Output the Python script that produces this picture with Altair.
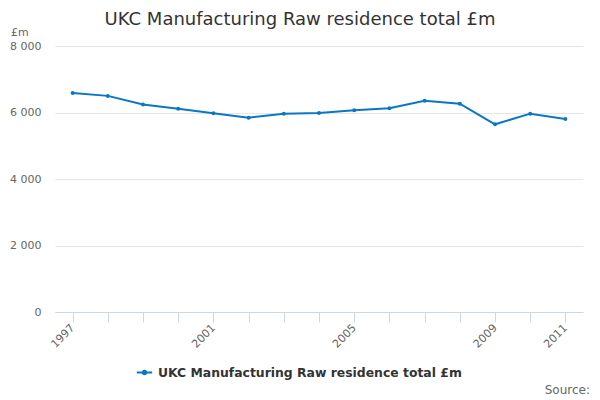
import altair as alt
import pandas as pd

years = list(range(1997, 2012))
values = [6590, 6500, 6240, 6115, 5975, 5845, 5965, 5985, 6065, 6125, 6355, 6265, 5645, 5965, 5805]
series_name = "UKC Manufacturing Raw residence total £m"
y_ticks = [0, 2000, 4000, 6000, 8000]
x_label_years = [1997, 2001, 2005, 2009, 2011]

df = pd.DataFrame({"year": years, "value": values, "series": series_name})

color = "#0b77c2"
font = "DejaVu Sans"

label_expr = "indexof([" + ",".join(str(y) for y in x_label_years) + "], datum.value) >= 0 ? datum.value : ''"

x_enc = alt.X(
    "year:Q",
    scale=alt.Scale(domain=[1996.5, 2011.5], nice=False, zero=False),
    axis=alt.Axis(
        values=years,
        labelExpr=label_expr,
        labelAngle=-45,
        labelAlign="right",
        labelBaseline="middle",
        labelPadding=4,
        labelFont=font,
        labelFontSize=11,
        labelColor="#666666",
        tickColor="#ccd6eb",
        tickSize=10,
        domainColor="#ccd6eb",
        grid=False,
        title=None,
        labelOverlap=False,
        labelFlush=False,
    ),
)
y_enc = alt.Y(
    "value:Q",
    scale=alt.Scale(domain=[0, 8000], nice=False),
    axis=alt.Axis(
        values=y_ticks,
        labelExpr="replace(format(datum.value, ','), ',', ' ')",
        labelFont=font,
        labelFontSize=11,
        labelColor="#666666",
        labelPadding=14,
        gridColor="#e6e6e6",
        domain=False,
        ticks=False,
        title=None,
    ),
)

legend_symbol = "M -1.4 0 L 1.4 0 M 0.3 0 A 0.3 0.3 0 1 1 -0.3 0 A 0.3 0.3 0 1 1 0.3 0"

line = alt.Chart(df).mark_line(strokeWidth=2).encode(
    x=x_enc,
    y=y_enc,
    color=alt.Color(
        "series:N",
        scale=alt.Scale(range=[color]),
        legend=alt.Legend(
            title=None,
            orient="none",
            legendX=83,
            legendY=320,
            symbolType=legend_symbol,
            symbolSize=120,
            symbolStrokeWidth=2,
            symbolFillColor=color,
            labelOffset=7,
            labelFont=font,
            labelFontSize=12.4,
            labelFontWeight="bold",
            labelColor="#333333",
            labelLimit=500,
        ),
    ),
)
points = alt.Chart(df).mark_point(filled=True, size=16, opacity=1).encode(
    x=x_enc, y=y_enc, color=alt.Color("series:N", legend=None)
)

title_text = alt.Chart(pd.DataFrame({"t": [series_name]})).mark_text(
    font=font, fontSize=18, color="#333333", align="center", baseline="alphabetic"
).encode(x=alt.value(245), y=alt.value(-21), text="t:N")

unit_text = alt.Chart(pd.DataFrame({"t": ["£m"]})).mark_text(
    font=font, fontSize=11, color="#666666", align="left", baseline="alphabetic"
).encode(x=alt.value(-44), y=alt.value(-10), text="t:N")

source_text = alt.Chart(pd.DataFrame({"t": ["Source:"]})).mark_text(
    font=font, fontSize=12, color="#666666", align="right", baseline="alphabetic"
).encode(x=alt.value(535), y=alt.value(348), text="t:N")

chart = (
    alt.layer(line, points, title_text, unit_text, source_text)
    .properties(
        width=528,
        height=266,
        background="white",
        autosize=alt.AutoSizeParams(type="none"),
        padding={"left": 47, "top": 38, "right": 9, "bottom": 92},
    )
    .configure_view(stroke="transparent", strokeWidth=0)
)

chart.save("out.html", embed_options={"renderer": "svg", "actions": False})
